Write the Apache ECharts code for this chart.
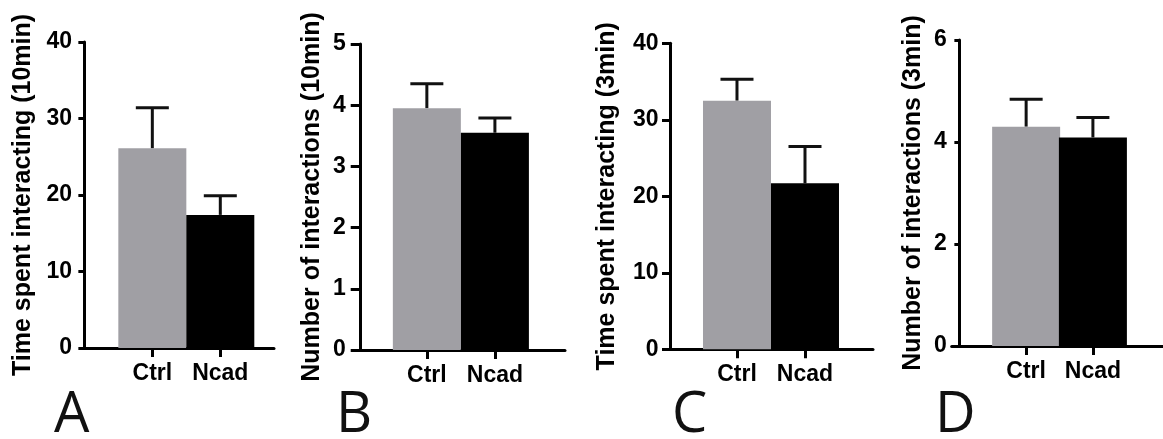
<!DOCTYPE html>
<html>
<head>
<meta charset="utf-8">
<script src="https://cdn.jsdelivr.net/npm/echarts@6/dist/echarts.min.js"></script>
<style>
html,body{margin:0;padding:0;background:#fff;}
#main{width:1163px;height:439px;}
</style>
</head>
<body>
<div id="main"></div>
<script>
// ---- data ----
const categories = ['Ctrl', 'Ncad'];
const panelLetters = ['A', 'B', 'C', 'D'];
const yTitles = [
  'Time spent interacting (10min)',
  'Number of interactions (10min)',
  'Time spent interacting (3min)',
  'Number of interactions (3min)'
];
const meansA = [26.1, 17.4];
const errsA  = [5.3, 2.5];
const meansB = [3.95, 3.55];
const errsB  = [0.40, 0.24];
const meansC = [32.5, 21.7];
const errsC  = [2.8, 4.8];
const meansD = [4.30, 4.09];
const errsD  = [0.54, 0.39];
const yMax      = [40, 5, 40, 6];
const yInterval = [10, 1, 10, 2];

const means = [meansA, meansB, meansC, meansD];
const errs  = [errsA, errsB, errsC, errsD];

// ---- layout (pixels / styles only) ----
const layout = [
  {left: 83,    top: 42,   width: 191,   xMin: -0.02, xMax: 2.79, nameGap: 47, labelMargin: 11, tickLen: 6,  letterX: 72,  },
  {left: 360.7, top: 44,   width: 204.3, xMin: 0.028, xMax: 3.03, nameGap: 36, labelMargin: 15, tickLen: 10, letterX: 354, },
  {left: 670,   top: 43.3, width: 203,   xMin: 0.015, xMax: 3.0,  nameGap: 50, labelMargin: 11.5, tickLen: 8, letterX: 690, },
  {left: 951.7, top: 40,   width: 215,   xMin: -0.115, xMax: 3.05, nameGap: 26, labelMargin: 5, tickLen: 5,  letterX: 953, }
];
const plotH = 306;
const barColors = ['#a09fa4', '#000000'];
const barW = 68;
const capHalf = 16.5;
const font = 'Liberation Sans, Arial, sans-serif';

const grids = [], xAxes = [], yAxes = [], series = [], graphics = [];

layout.forEach((L, i) => {
  grids.push({left: L.left, top: L.top, width: L.width, height: plotH, containLabel: false});
  xAxes.push({
    type: 'value', gridIndex: i, min: L.xMin, max: L.xMax,
    splitLine: {show: false},
    axisLine: {show: true, onZero: false, lineStyle: {color: '#000', width: 3}},
    axisTick: {show: true, customValues: [1, 2], length: 9, lineStyle: {color: '#000', width: 3}},
    axisLabel: {
      show: true, customValues: [1, 2], margin: 14,
      formatter: v => categories[Math.round(v) - 1] || '',
      color: '#000', fontFamily: font, fontWeight: 'bold', fontSize: 23
    }
  });
  yAxes.push({
    type: 'value', gridIndex: i, min: 0, max: yMax[i], interval: yInterval[i],
    name: yTitles[i], nameLocation: 'middle', nameGap: L.nameGap, nameRotate: 90,
    nameTextStyle: {color: '#000', fontFamily: font, fontWeight: 'bold', fontSize: 25},
    splitLine: {show: false},
    axisLine: {show: true, lineStyle: {color: '#000', width: 3}},
    axisTick: {show: true, length: L.tickLen, lineStyle: {color: '#000', width: 3}},
    axisLabel: {margin: L.labelMargin, color: '#000', fontFamily: font, fontWeight: 'bold', fontSize: 23}
  });
  series.push({
    type: 'bar', xAxisIndex: i, yAxisIndex: i, barWidth: barW,
    data: means[i].map((m, k) => ({value: [k + 1, m], itemStyle: {color: barColors[k]}})),
    silent: true, animation: false
  });
  series.push({
    type: 'custom', xAxisIndex: i, yAxisIndex: i, animation: false, silent: true,
    data: means[i].map((m, k) => [k + 1, m, m + errs[i][k]]),
    renderItem: (params, api) => {
      const base = api.coord([api.value(0), api.value(1)]);
      const top = api.coord([api.value(0), api.value(2)]);
      const st = {stroke: '#111', lineWidth: 3};
      return {
        type: 'group',
        children: [
          {type: 'line', shape: {x1: base[0], y1: base[1], x2: top[0], y2: top[1]}, style: st},
          {type: 'line', shape: {x1: top[0] - capHalf, y1: top[1], x2: top[0] + capHalf, y2: top[1]}, style: st}
        ]
      };
    }
  });
  graphics.push({
    type: 'text', left: L.letterX - 18, top: 388, silent: true,
    style: {text: panelLetters[i], fontFamily: 'Open Sans, sans-serif', fontSize: 56, fontWeight: 'normal', fill: '#111'}
  });
});

const chart = echarts.init(document.getElementById('main'), null, {renderer: 'canvas'});
chart.setOption({
  animation: false,
  grid: grids,
  xAxis: xAxes,
  yAxis: yAxes,
  series: series,
  graphic: graphics
});
</script>
</body>
</html>
